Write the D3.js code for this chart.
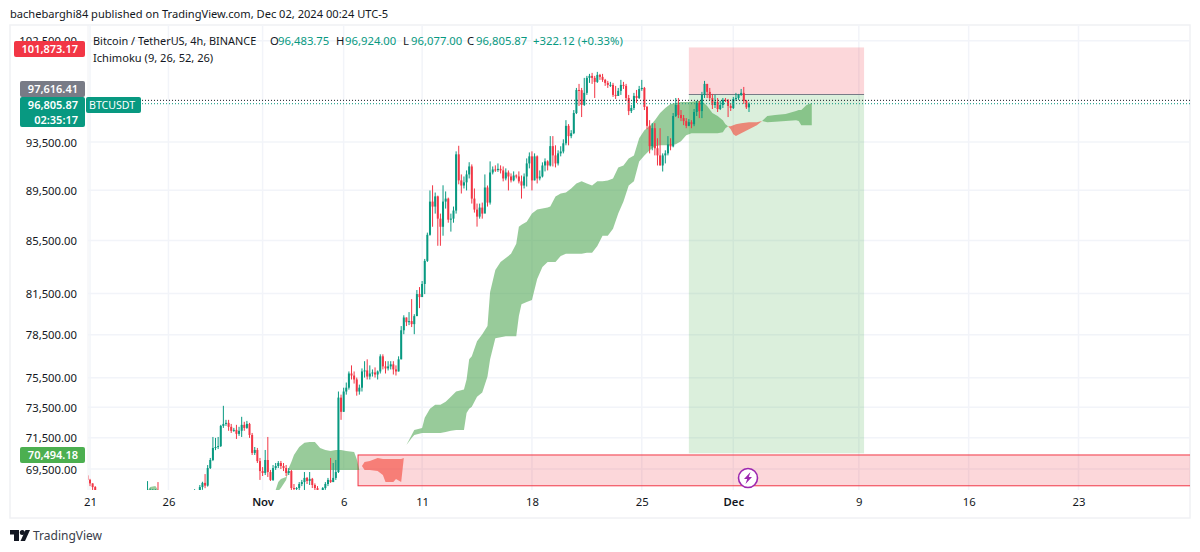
<!DOCTYPE html>
<html>
<head>
<meta charset="utf-8">
<script src="https://cdn.jsdelivr.net/npm/d3@7"></script>
<style>
  html, body { margin: 0; padding: 0; background: #fff; }
  svg { display: block; }
  text { font-family: "Noto Sans", sans-serif; font-size: 11.3px; fill: #131722; }
</style>
</head>
<body>
<svg id="chart" width="1200" height="552"></svg>
<script>
// 4h bars, bar 0 = Oct 21 00:00. First entry of each list is bar -1, open of a bar = close before it
const firstBar = -1;
const firstOpen = 69100;
const closes = [
  68815,68600,68370,68190,67800,67500,67300,67200,67350,67400,
  67150,67300,67400,67250,67000,66900,66800,67000,67200,67300,
  67400,67500,67700,68100,68150,68160,68170,67900,67600,67400,
  67100,66900,66800,67000,67150,67200,67100,67300,67400,67500,
  67600,68100,68000,68370,68630,68460,69560,70070,70840,70900,
  70960,72270,72400,72470,72210,71950,72010,71750,71950,72340,
  72140,72400,71680,70520,70710,70000,69370,69250,70070,69310,
  68815,69560,69690,69880,69690,69560,69250,69370,68310,68250,
  68310,68560,68680,68940,68750,68880,68500,68310,68190,67900,
  68310,68560,68815,68680,68940,69310,74150,73200,74560,74820,
  75790,75650,75380,74560,74820,75930,76000,75580,75790,75860,
  75720,75930,76980,76280,76140,76280,76420,76070,75930,76770,
  78820,79740,79400,79480,79260,79840,81450,81230,82200,83940,
  85950,88580,88180,89000,87220,86580,88580,88820,87140,87220,
  87860,92460,90300,89880,90140,90790,91450,88820,87940,87380,
  88100,87620,89720,88500,90950,91200,91150,91250,91120,90460,
  90950,90620,90300,90700,90620,90220,89880,90620,91700,92290,
  90300,92290,90460,90620,91530,91870,91530,93150,92370,91700,
  92540,92700,93390,94880,94000,94250,95990,98020,98000,96700,
  97760,99100,99280,99100,98740,99370,99190,98920,98650,98470,
  98470,97580,97490,97940,98470,98380,97310,96160,96430,97490,
  97310,98100,98200,96520,94880,93150,94680,92970,92370,91530,
  92370,92540,93300,93130,95730,96690,95820,95550,95290,94880,
  95200,95020,96080,96870,96160,97580,98560,97850,97310,96690,
  96960,96340,96690,97140,97100,96610,96430,97220,97310,97580,
  97760,97060,96483.75,96805.87
];
const highs = [
  69440,68880,68600,68430,68000,67800,67550,67400,67500,67600,
  67450,67450,67550,67450,67300,67100,67000,67150,67350,67450,
  67550,67650,67900,68740,68280,68240,68240,68680,67950,67700,
  67500,67200,67000,67150,67300,67400,67300,67450,67550,67650,
  67750,68240,68150,68500,68700,69180,69750,70200,71550,71490,
  71550,72340,73600,72670,72670,72400,72140,72340,72210,72870,
  72540,72600,72470,71810,70900,70840,70200,69620,70710,71550,
  69440,69750,69880,70000,70010,69880,69750,69560,69440,68560,
  68370,68680,68815,69310,69000,69310,68940,68600,68430,68190,
  68370,68680,68940,70200,69880,70070,74560,74350,74820,75170,
  75930,76350,75930,75510,75030,76140,76640,76770,76350,76070,
  76210,76000,77120,77120,76640,76640,76640,76640,76350,76980,
  79120,79900,79740,80130,81080,79980,81750,81970,82420,84090,
  86120,89480,89900,89310,89060,87620,89900,89400,88900,87620,
  88180,92710,93180,90790,90620,91120,91800,91620,89640,88420,
  88420,88500,90790,89880,91870,91450,91540,91700,91540,91450,
  91290,91120,90870,91040,90790,91040,90700,90870,92120,92620,
  92710,92540,92370,91120,91790,92120,91960,94000,94000,93220,
  92800,93140,93730,95370,95030,94510,96250,98200,98560,98200,
  99100,99280,99460,99550,99280,99640,99460,99460,99010,98830,
  98740,98650,98380,98200,98920,98740,98560,97580,96690,97760,
  98020,98380,98920,98290,96610,95370,95110,95110,93820,94680,
  92540,92800,94000,93820,95990,97310,97310,96250,95820,95550,
  95460,95370,96340,97050,97050,97850,98830,98560,98200,97670,
  97580,97310,97050,97310,97310,97220,96870,97400,97760,97670,
  98110,98290,97140,96924
];
const lows = [
  68560,68430,68190,68050,67600,67300,67100,67000,67100,67200,
  67000,67050,67200,67100,66800,66700,66600,66700,66900,67100,
  67200,67300,67400,67600,67900,68000,68000,67700,67400,67200,
  66900,66700,66600,66700,66900,67000,66900,67000,67200,67300,
  67400,67500,67800,67900,68200,68300,68400,69500,70000,70700,
  70770,70900,72140,72270,71950,71810,71880,71420,71620,71550,
  71950,72080,71490,70390,70390,69880,68815,69060,69120,69000,
  68750,68750,69440,69560,69500,69370,69060,69120,68190,68100,
  68190,68190,68430,68190,68560,68500,68310,68100,68060,67700,
  67800,68200,68430,68630,68680,68815,69250,72670,73200,74350,
  74690,75380,75100,74280,74350,74560,75510,75380,75380,75580,
  75510,75380,75790,76070,75790,76000,76070,75720,75650,75930,
  76770,78540,79120,79190,79050,78540,79840,80420,81450,81450,
  83860,85880,86580,87620,85100,85100,85880,88020,86900,86200,
  86900,87620,89980,89230,89640,89480,90460,88420,87700,86590,
  87220,87220,87860,88180,88340,90790,91000,91000,90870,90220,
  90300,89480,90130,90220,90460,90050,88820,89640,89800,91290,
  89480,90300,90050,90300,90540,91040,91120,91450,91450,91370,
  91530,92290,92540,93220,93220,93820,94170,95900,96610,95640,
  96610,97580,98650,98560,97310,98650,98920,98740,98380,98200,
  98290,97400,97220,97490,97580,98110,97050,95810,95990,96250,
  96870,97220,97940,96250,94590,92540,92800,92370,91530,91530,
  91030,91700,92370,92800,93050,95640,95550,95290,94940,94680,
  94850,94680,94850,95730,95550,95550,97310,97310,97140,96340,
  96430,96080,96250,96430,96960,95640,96170,96340,97050,97140,
  97490,96780,96340,96077
];

// ichimoku cloud, read at these bars (runs 26 bars past the last candle)
const kumoBars = [
  21,23,25,27,28,70,71,72,73,75,76,77,78,80,82,84,86,88,90,92,94,96,98,101,102,103,104,
  105,107,110,112,113,116,117,119,120,121,123,124,127,128,130,132,134,136,138,140,143,
  144,145,146,148,150,152,153,155,157,159,161,163,164,165,167,169,171,173,175,176,178,
  180,182,184,186,188,190,192,194,196,198,200,202,204,206,208,210,212,214,216,218,220,
  222,224,226,228,230,232,234,236,238,240,242,243,244,245,246,247,249,252,255,257,259,
  262,266,270,271,272,274,276
];
const spanA = [
  67900,68370,68430,67950,67800,67800,68190,68680,68880,69000,69560,69940,70390,70900,71170,71230,71230,70840,70710,70650,70710,70710,70650,70580,70140,69440,69690,
  69440,69440,69370,69120,68680,68680,68880,68680,70200,71030,71680,72010,72140,72800,73400,73670,73670,73870,74210,74560,74690,
  75380,76770,76980,78040,78540,79120,81600,83250,83860,84170,84480,85250,86580,86740,86980,87620,87940,88020,88100,88180,88980,
  89230,89310,89640,90050,90220,90050,89880,90220,90220,90300,90460,91360,91530,92120,92370,93820,94510,94850,95370,95990,96430,
  96780,96870,96960,96960,96960,97050,97050,96610,95990,95730,95370,95020,94850,94590,94170,94000,94250,94590,94940,95290,95730,
  95820,95900,96170,96250,96250,96690,96870
];
const spanB = [
  67900,67900,67900,67900,67800,67800,68100,68120,68310,68815,69440,69440,69440,69440,69440,69440,69440,69440,69440,69440,69440,69440,69440,69440,69440,69440,69690,
  69940,70000,70200,70130,70130,70130,70130,70130,70200,71030,71490,71680,71810,71810,71810,71810,71810,71880,71950,72010,72010,
  73130,73400,73530,74210,74490,75580,76770,78250,78320,78400,78400,78400,79840,80710,80860,81010,82570,83480,83860,83860,83860,
  84320,84480,84480,84480,84480,84560,84560,85090,85880,85880,86430,87620,88580,89880,90220,91870,92370,92800,93140,93220,93220,
  93220,93300,93560,94080,94250,94250,94250,94250,94250,94250,94330,94680,94850,94850,94940,95020,95110,95200,95200,95290,95200,
  95240,95290,95370,95290,94940,94940,94940
];

const priceTicks = [69500, 71500, 73500, 75500, 78500, 81500, 85500, 89500, 93500, 102500];
const timeTickBars = [0, 30, 66, 97, 127, 169, 211, 246, 294, 336, 378];
const timeTickLabels = ['21', '26', 'Nov', '6', '11', '18', '25', 'Dec', '9', '16', '23'];

// long position drawing and the box under it
const stopPrice = 101873.17;
const entryPrice = 97616.41;
const targetPrice = 70494.18;
const lastPrice = 96805.87;
const prevPrice = 97100;
const positionBars = [229, 296];
const zoneStartBar = 102.5;
const zonePrices = [70390, 68450];

const legendLine = [
  ['O', '#131722', 270], ['96,483.75', '#089981', 278],
  ['H', '#131722', 336], ['96,924.00', '#089981', 345],
  ['L', '#131722', 403], ['96,077.00', '#089981', 411],
  ['C', '#131722', 467], ['96,805.87', '#089981', 476],
  ['+322.12 (+0.33%)', '#089981', 533]
];

const upColor = '#089981';
const downColor = '#f23645';
const gridColor = '#f2f4f9';

const paneLeft = 88, paneRight = 1190, paneTop = 25, paneBottom = 490;

const svg = d3.select('#chart');

const x = d3.scaleLinear().domain([0, 252]).range([90, 749]);
const y = d3.scaleLog().domain([69500, 93500]).range([469, 142]);

svg.append('defs').append('clipPath').attr('id', 'pane')
  .append('rect').attr('x', paneLeft).attr('y', paneTop).attr('width', paneRight - paneLeft).attr('height', paneBottom - paneTop);

// frame
svg.append('rect').attr('x', 10).attr('y', paneTop).attr('width', paneRight - 10).attr('height', 518 - paneTop)
  .attr('fill', '#fff').attr('stroke', '#f0f1f4').attr('stroke-width', 1.5);
svg.append('line').attr('x1', paneLeft).attr('x2', paneLeft).attr('y1', paneTop).attr('y2', 490)
  .attr('stroke', '#f0f1f4');

// price axis and grid
const yAxis = svg.append('g').attr('transform', `translate(${paneLeft},0.5)`)
  .call(d3.axisLeft(y).tickValues(priceTicks).tickFormat(d3.format(',.2f')).tickSize(0).tickPadding(11));
yAxis.select('.domain').remove();

svg.append('g').selectAll('line').data(priceTicks).join('line')
  .attr('x1', paneLeft).attr('x2', paneRight)
  .attr('y1', d => y(d)).attr('y2', d => y(d))
  .attr('stroke', gridColor).attr('stroke-width', 1.5);

// time axis and grid
const xAxis = svg.append('g').attr('transform', 'translate(0,498)')
  .call(d3.axisBottom(x).tickValues(timeTickBars).tickFormat((d, i) => timeTickLabels[i]).tickSize(0).tickPadding(0));
xAxis.select('.domain').remove();
xAxis.selectAll('text').attr('font-weight', (d, i) => timeTickLabels[i].length === 3 ? 600 : 400);

svg.append('g').selectAll('line').data(timeTickBars).join('line')
  .attr('x1', d => x(d)).attr('x2', d => x(d))
  .attr('y1', paneTop).attr('y2', paneBottom)
  .attr('stroke', gridColor).attr('stroke-width', 1.5);

const pane = svg.append('g').attr('clip-path', 'url(#pane)');

// position drawing
pane.append('rect').attr('x', x(positionBars[0])).attr('width', x(positionBars[1]) - x(positionBars[0]))
  .attr('y', y(stopPrice)).attr('height', y(entryPrice) - y(stopPrice))
  .attr('fill', downColor).attr('fill-opacity', 0.2);
pane.append('rect').attr('x', x(positionBars[0])).attr('width', x(positionBars[1]) - x(positionBars[0]))
  .attr('y', y(entryPrice)).attr('height', y(targetPrice) - y(entryPrice))
  .attr('fill', '#4caf50').attr('fill-opacity', 0.2);
pane.append('line').attr('x1', x(positionBars[0])).attr('x2', x(positionBars[1]))
  .attr('y1', y(entryPrice)).attr('y2', y(entryPrice))
  .attr('stroke', '#787b86');

// box at the bottom, runs off the right side
pane.append('rect').attr('x', x(zoneStartBar)).attr('width', paneRight - x(zoneStartBar) + 10)
  .attr('y', y(zonePrices[0])).attr('height', y(zonePrices[1]) - y(zonePrices[0]))
  .attr('fill', downColor).attr('fill-opacity', 0.2)
  .attr('stroke', downColor).attr('stroke-width', 1);

// cloud
const kumo = kumoBars.map((bar, i) => ({ bar, a: spanA[i], b: spanB[i] }));
const kumoArea = d3.area().x(d => x(d.bar)).y0(d => y(d.b)).y1(d => y(d.a));
pane.append('path').attr('d', kumoArea.defined(d => d.a >= d.b)(kumo))
  .attr('fill', '#43a047').attr('fill-opacity', 0.55);
pane.append('path').attr('d', kumoArea.defined(d => d.a <= d.b)(kumo))
  .attr('fill', '#f44336').attr('fill-opacity', 0.6);

// candles
const candles = closes.map((c, i) => ({
  bar: firstBar + i,
  open: i === 0 ? firstOpen : closes[i - 1],
  high: highs[i],
  low: lows[i],
  close: c
}));
const color = d => d.close >= d.open ? upColor : downColor;

pane.append('g').selectAll('line').data(candles).join('line')
  .attr('x1', d => x(d.bar)).attr('x2', d => x(d.bar))
  .attr('y1', d => y(d.high)).attr('y2', d => y(d.low))
  .attr('stroke', color).attr('stroke-width', 1);
pane.append('g').selectAll('rect').data(candles).join('rect')
  .attr('x', d => x(d.bar) - 1)
  .attr('width', 2)
  .attr('y', d => y(Math.max(d.open, d.close)))
  .attr('height', d => Math.max(1, Math.abs(y(d.open) - y(d.close))))
  .attr('fill', color);

// last price lines
pane.append('line').attr('x1', paneLeft).attr('x2', paneRight)
  .attr('y1', y(prevPrice)).attr('y2', y(prevPrice))
  .attr('stroke', '#131722').attr('stroke-dasharray', '1 2');
pane.append('line').attr('x1', paneLeft).attr('x2', paneRight)
  .attr('y1', y(lastPrice)).attr('y2', y(lastPrice))
  .attr('stroke', upColor).attr('stroke-dasharray', '1 2');

// the purple event mark
const mark = svg.append('g').attr('transform', `translate(${x(252) - 1},478)`);
mark.append('circle').attr('r', 9.5).attr('fill', '#fff').attr('stroke', '#9c27b0').attr('stroke-width', 1.6);
mark.append('path').attr('d', 'M2.5,-6 L-4,1 L-0.8,1 L-2.5,6 L4,-1 L0.8,-1 Z').attr('fill', '#9c27b0');

// price tags
function tag(x0, y0, w, h, fill, lines) {
  svg.append('rect').attr('x', x0).attr('y', y0).attr('width', w).attr('height', h).attr('rx', 2).attr('fill', fill);
  lines.forEach((txt, i) => {
    svg.append('text').text(txt)
      .attr('x', 78).attr('y', y0 + 12 + i * 15)
      .attr('text-anchor', 'end').style('fill', '#fff').style('font-size', '11px').attr('font-weight', 600);
  });
}
tag(14, 41, 71, 16, downColor, [d3.format(',.2f')(stopPrice)]);
tag(20, 81, 65, 16, '#787b86', [d3.format(',.2f')(entryPrice)]);
tag(20, 97, 65, 30, upColor, [d3.format(',.2f')(lastPrice), '02:35:17']);
tag(20, 447, 65, 16, '#4caf50', [d3.format(',.2f')(targetPrice)]);

svg.append('rect').attr('x', 86).attr('y', 97).attr('width', 55).attr('height', 16).attr('rx', 2).attr('fill', upColor);
svg.append('text').text('BTCUSDT').attr('x', 89).attr('y', 109).style('fill', '#fff').style('font-size', '10.6px');

// legend and header
svg.append('text').text('bachebarghi84 published on TradingView.com, Dec 02, 2024 00:24 UTC-5')
  .attr('x', 10).attr('y', 18).style('font-size', '11.1px');
svg.append('text').text('Bitcoin / TetherUS, 4h, BINANCE').attr('x', 93).attr('y', 44.5).style('font-size', '10.9px');
svg.append('text').text('Ichimoku (9, 26, 52, 26)').attr('x', 93).attr('y', 61.5).style('font-size', '11.1px');
svg.append('g').selectAll('text').data(legendLine).join('text')
  .text(d => d[0]).attr('x', d => d[2]).attr('y', 44.5).style('fill', d => d[1]);

// logo
const logo = svg.append('g').attr('transform', 'translate(10,530)').attr('fill', '#131722');
logo.append('path').attr('d', 'M0,0 H9 V11 H4 V4.5 H0 Z');
logo.append('circle').attr('cx', 12.3).attr('cy', 2.5).attr('r', 2.5);
logo.append('path').attr('d', 'M15.5,0 H20 L15,11 H10.5 Z');
svg.append('text').text('TradingView').attr('x', 33).attr('y', 539.5).style('font-size', '12px').style('fill', '#3a3e4a');
</script>
</body>
</html>
